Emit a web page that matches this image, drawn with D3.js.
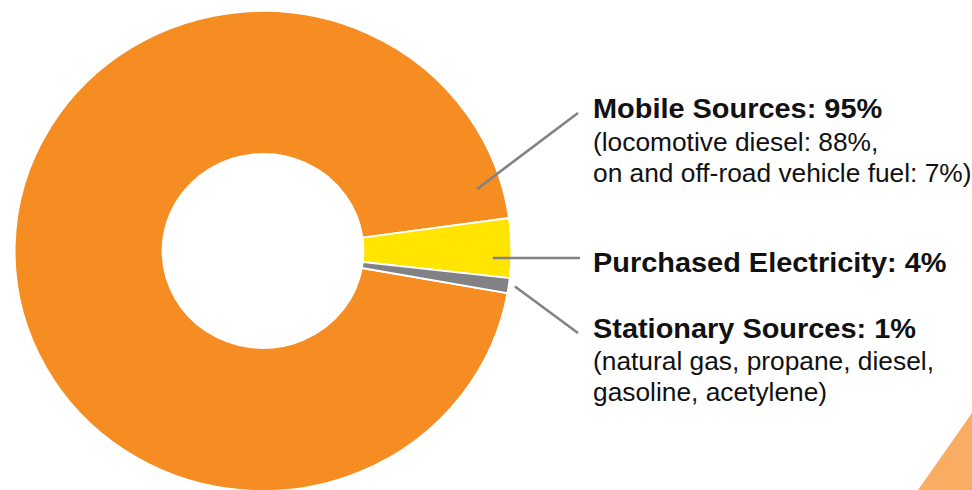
<!DOCTYPE html>
<html>
<head>
<meta charset="utf-8">
<script src="https://cdn.jsdelivr.net/npm/d3@7"></script>
<style>
  html, body { margin: 0; padding: 0; background: #ffffff; }
  svg { display: block; }
  text { font-family: "Liberation Sans", Arial, Helvetica, sans-serif; fill: #111; }
</style>
</head>
<body>
<svg id="chart" width="972" height="490"></svg>
<script>
const categories = ["Mobile Sources", "Purchased Electricity", "Stationary Sources"];
const values = [95, 4, 1];
const colors = ["#F58D22", "#FFE500", "#808285"];
const titles = ["Mobile Sources: 95%", "Purchased Electricity: 4%", "Stationary Sources: 1%"];
const subLines = [
  ["(locomotive diesel: 88%,", "on and off-road vehicle fuel: 7%)"],
  [],
  ["(natural gas, propane, diesel,", "gasoline, acetylene)"]
];

const svg = d3.select("#chart");
const W = 972, H = 490;
const cx = 263, cy = 251, sx = 1.035;
const outerR = 240, innerR = 97;
const startDeg = 100.1;

// decorative corner triangle
svg.append("polygon")
  .attr("points", `918,${H} ${W},413 ${W},${H}`)
  .attr("fill", "#F9AD62");

const pie = d3.pie().sort(null).value(d => d)
  .startAngle(startDeg * Math.PI / 180)
  .endAngle((startDeg + 360) * Math.PI / 180);
const arcs = pie(values);
const arc = d3.arc().innerRadius(innerR).outerRadius(outerR);

const g = svg.append("g").attr("transform", `translate(${cx},${cy}) scale(${sx},1)`);
g.selectAll("path").data(arcs).join("path")
  .attr("d", arc)
  .attr("fill", (d, i) => colors[i])
  .attr("stroke", "#fff")
  .attr("stroke-width", 1.8);

function pt(angle, r) {
  return [cx + sx * r * Math.sin(angle), cy - r * Math.cos(angle)];
}
const leaderStartR = [216, 222, 246];
const leaderEnd = [[578, 113], [580, 258], [578, 333]];
const labelY = [118, 272, 338];
const subGap = [33, 0, 32];
const subStep = 31;
arcs.forEach((a, i) => {
  const mid = (a.startAngle + a.endAngle) / 2;
  let p0;
  if (i === 0) {
    p0 = pt(73.3 * Math.PI / 180, leaderStartR[i]);
  } else {
    p0 = pt(mid, leaderStartR[i]);
  }
  if (i === 1) p0[1] = leaderEnd[1][1];
  svg.append("line")
    .attr("x1", p0[0]).attr("y1", p0[1])
    .attr("x2", leaderEnd[i][0]).attr("y2", leaderEnd[i][1])
    .attr("stroke", "#808285").attr("stroke-width", 2.6);

  const tg = svg.append("g")
    .attr("transform", `translate(593,0) scale(1.033,1)`);
  tg.append("text").attr("x", 0).attr("y", labelY[i])
    .attr("font-weight", "bold").attr("font-size", 28).text(titles[i]);
  subLines[i].forEach((s, j) => {
    tg.append("text").attr("x", 0).attr("y", labelY[i] + subGap[i] + j * subStep)
      .attr("font-size", 25.5).text(s);
  });
});
</script>
</body>
</html>
